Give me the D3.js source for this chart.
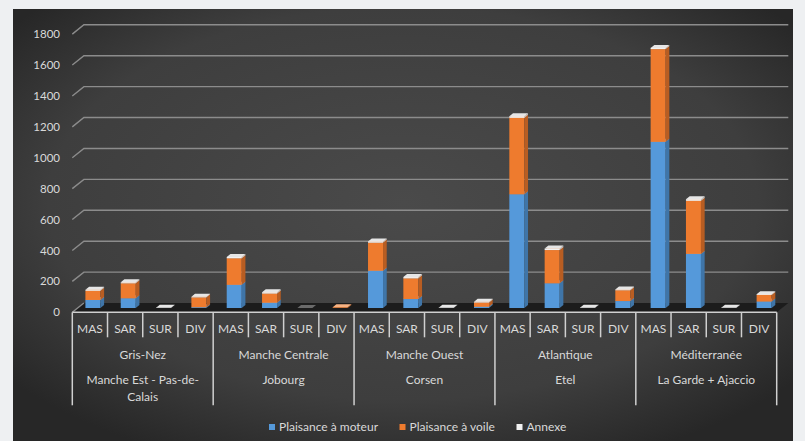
<!DOCTYPE html>
<html>
<head>
<meta charset="utf-8">
<script src="https://cdn.jsdelivr.net/npm/d3@7"></script>
<style>
  html, body { margin: 0; padding: 0; background: #eef0f2; }
  svg { display: block; }
  text { font-family: Lato, "Open Sans", sans-serif; }
</style>
</head>
<body>
<svg id="chart" width="805" height="441"></svg>
<script>
// Regions (first label row) and their stations (second label row)
const regions = ["Gris-Nez", "Manche Centrale", "Manche Ouest", "Atlantique", "Méditerranée"];
const stations = ["Manche Est - Pas-de-Calais", "Jobourg", "Corsen", "Etel", "La Garde + Ajaccio"];
const subcats = ["MAS", "SAR", "SUR", "DIV"];

// Series values, one entry per region × subcategory (MAS, SAR, SUR, DIV)
const seriesNames = ["Plaisance à moteur", "Plaisance à voile", "Annexe"];
const moteur = [52, 63, 0, 5,   150, 34, 0, 0,   241, 58, 0, 8,   736, 160, 0, 45,   1075, 350, 0, 42];
const voile  = [60, 97, 0, 64,  172, 60, 0, 5,   182, 134, 0, 28, 495, 215, 0, 70,   600, 344, 0, 42];
const annexe = [6, 6, 2, 3,     8, 8, 0, 0,      8, 8, 2, 4,      10, 10, 2, 5,      8, 10, 2, 5];

const yTicks = [0, 200, 400, 600, 800, 1000, 1200, 1400, 1600, 1800];

const svg = d3.select("#chart");
const W = 805, H = 441;

// Dark panel with soft radial shading
const defs = svg.append("defs");
const grad = defs.append("radialGradient").attr("id", "bg")
  .attr("cx", "50%").attr("cy", "45%").attr("r", "65%");
grad.append("stop").attr("offset", "0%").attr("stop-color", "#4a4a4a");
grad.append("stop").attr("offset", "70%").attr("stop-color", "#3e3e3e");
grad.append("stop").attr("offset", "100%").attr("stop-color", "#272727");
svg.append("rect").attr("x", 13).attr("y", 9).attr("width", 780).attr("height", H - 9)
  .attr("fill", "url(#bg)");

// Oblique 3D projection: full depth of the floor, front -> back
const DX = 11.6, DY = -9.3;

const keys = [];
regions.forEach(r => subcats.forEach(s => keys.push(r + "|" + s)));

const x = d3.scaleBand().domain(keys).range([72.3, 776.7]).paddingInner(0).paddingOuter(0);
// value scale on the back wall
const y = d3.scaleLinear().domain([0, 1800]).range([303, 24.8]);

const rows = keys.map((k, i) => ({ key: k, moteur: moteur[i], voile: voile[i], annexe: annexe[i] }));
const stack = d3.stack().keys(["moteur", "voile", "annexe"]);
const stacked = stack(rows);

const colors = {
  moteur: { front: "#5599da", side: "#3f75a8", top: "#9cc3ea" },
  voile:  { front: "#ee7b2e", side: "#b85d22", top: "#f6b283" },
  annexe: { front: "#f2f2f2", side: "#bdbdbd", top: "#e6e6e6" }
};

const x0 = x.range()[0], x1 = x.range()[1];

// Floor
svg.append("polygon")
  .attr("points", [[x0, y(0) - DY], [x1, y(0) - DY], [x1 + DX, y(0)], [x0 + DX, y(0)]].map(p => p.join(",")).join(" "))
  .attr("fill", "#1c1c1c");

// Gridlines: short diagonal on the side wall, then along the back wall
const grid = svg.append("g").attr("fill", "none").attr("stroke", "#8c8c8c").attr("stroke-width", 1.4);
yTicks.forEach(t => {
  if (t === 0) return;
  grid.append("path").attr("d", `M${x0},${y(t) - DY}L${x0 + DX},${y(t)}H${x1 + DX}`);
});
grid.append("path").attr("d", `M${x0},${y(0) - DY}L${x0 + DX},${y(0)}`);

// Y labels at the front plane
svg.append("g").selectAll("text").data(yTicks).join("text")
  .attr("x", 60).attr("y", d => y(d) - DY).attr("dy", "0.35em")
  .attr("text-anchor", "end").attr("font-size", 11.5).attr("fill", "#d9d9d9")
  .text(d => d);

// Bars
const barW = 15, sideDX = 3.7, sideDY = -3, frontDY = 5;
const barsG = svg.append("g");
function barX(k) {
  const c = x(k) + x.bandwidth() / 2;
  return c + 3 + 1.7 * (c - 90) / 563 - barW / 2;
}
keys.forEach((k, i) => {
  const bx = barX(k);
  const layers = stacked.map(s => ({ key: s.key, y0: s[i][0], y1: s[i][1] }));
  const nonzero = layers.filter(l => l.y1 > l.y0);
  layers.forEach(l => {
    if (l.y1 <= l.y0) return;
    const c = colors[l.key];
    const yt = y(l.y1) + frontDY, yb = y(l.y0) + frontDY;
    barsG.append("rect").attr("x", bx).attr("y", yt).attr("width", barW).attr("height", yb - yt).attr("fill", c.front);
    barsG.append("polygon")
      .attr("points", [[bx + barW, yb], [bx + barW + sideDX, yb + sideDY], [bx + barW + sideDX, yt + sideDY], [bx + barW, yt]].map(p => p.join(",")).join(" "))
      .attr("fill", c.side);
    barsG.append("polygon")
      .attr("points", [[bx, yt], [bx + barW, yt], [bx + barW + sideDX, yt + sideDY], [bx + sideDX, yt + sideDY]].map(p => p.join(",")).join(" "))
      .attr("fill", c.top);
  });
  if (nonzero.length === 0) {
    const yt = y(0) + frontDY;
    barsG.append("polygon")
      .attr("points", [[bx, yt], [bx + barW, yt], [bx + barW + sideDX, yt + sideDY], [bx + sideDX, yt + sideDY]].map(p => p.join(",")).join(" "))
      .attr("fill", "#6a6a6a");
  }
});

// Category axis
const axisY = y(0) - DY;
const ax = svg.append("g").attr("stroke", "#d0d0d0").attr("stroke-width", 1.5);
ax.append("line").attr("x1", x0).attr("x2", x1).attr("y1", axisY).attr("y2", axisY);
keys.forEach((k, i) => {
  if (i % 4 === 0) return;
  ax.append("line").attr("x1", x(k)).attr("x2", x(k)).attr("y1", axisY).attr("y2", axisY + 25);
});
d3.range(regions.length + 1).forEach(g => {
  const gx = g < regions.length ? x(keys[g * 4]) : x1;
  ax.append("line").attr("x1", gx).attr("x2", gx).attr("y1", axisY).attr("y2", axisY + 93);
});

const labelColor = "#d9d9d9";
const fs = 12;
svg.append("g").selectAll("text").data(keys).join("text")
  .attr("x", d => x(d) + x.bandwidth() / 2).attr("y", 329).attr("dy", "0.35em")
  .attr("text-anchor", "middle").attr("font-size", fs).attr("fill", labelColor)
  .text(d => d.split("|")[1]);

const groupW = x.bandwidth() * 4;
regions.forEach((r, g) => {
  const cx = x(keys[g * 4]) + groupW / 2;
  svg.append("text").attr("x", cx).attr("y", 354.5).attr("dy", "0.35em")
    .attr("text-anchor", "middle").attr("font-size", fs).attr("fill", labelColor).text(r);
  // wrap station names to the group width
  const t = svg.append("text").attr("x", cx).attr("y", 380).attr("dy", "0.35em")
    .attr("text-anchor", "middle").attr("font-size", fs).attr("fill", labelColor);
  const tokens = stations[g].match(/[^\s-]+-?|\s+|-/g) || [];
  let lines = [""];
  tokens.forEach(tok => {
    const trial = lines[lines.length - 1] + tok;
    t.text(trial.trim());
    if (t.node().getComputedTextLength() > groupW - 18 && lines[lines.length - 1].trim() !== "") {
      lines.push(tok.trim());
    } else {
      lines[lines.length - 1] = trial;
    }
  });
  t.text(null);
  lines.forEach((ln, li) => {
    t.append("tspan").attr("x", cx).attr("y", 380 + li * 16.5).attr("dy", "0.35em").text(ln.trim());
  });
});

// Legend
const legend = [
  { name: seriesNames[0], color: colors.moteur.front, x: 269 },
  { name: seriesNames[1], color: colors.voile.front, x: 399.5 },
  { name: seriesNames[2], color: "#f2f2f2", x: 516.5 }
];
const lg = svg.append("g");
legend.forEach(l => {
  lg.append("rect").attr("x", l.x).attr("y", 424).attr("width", 6).attr("height", 6).attr("fill", l.color);
  lg.append("text").attr("x", l.x + 10).attr("y", 427).attr("dy", "0.35em")
    .attr("font-size", fs).attr("fill", labelColor).text(l.name);
});
</script>
</body>
</html>
